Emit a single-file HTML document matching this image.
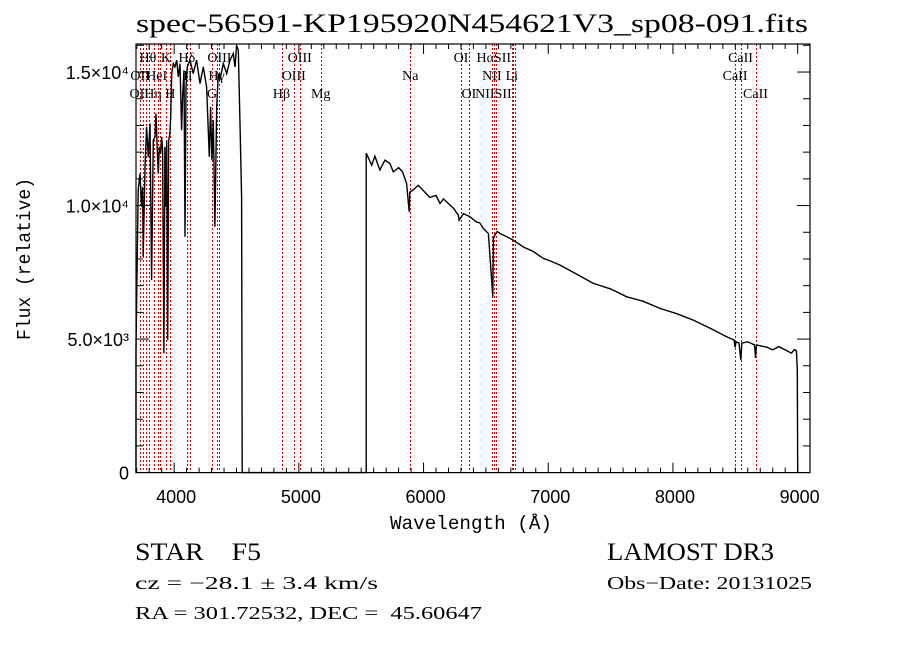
<!DOCTYPE html>
<html><head><meta charset="utf-8"><style>
html,body{margin:0;padding:0;background:#fff;}
svg{display:block;}
</style></head><body>
<svg id="chart" width="900" height="649" viewBox="0 0 900 649" xmlns="http://www.w3.org/2000/svg">
<rect width="900" height="649" fill="#fff"/>
<text x="472" y="32" text-anchor="middle" font-family="Liberation Serif, serif" font-size="26" textLength="672" lengthAdjust="spacingAndGlyphs">spec-56591-KP195920N454621V3_sp08-091.fits</text>
<g id="lines"></g>
<g id="labels"></g>
<g id="series"></g>
<g id="axes"></g>
<text transform="translate(30,259) rotate(-90)" text-anchor="middle" font-family="Liberation Mono, monospace" font-size="19" textLength="162" lengthAdjust="spacingAndGlyphs">Flux (relative)</text>
<text x="471" y="529" text-anchor="middle" font-family="Liberation Mono, monospace" font-size="19" textLength="162" lengthAdjust="spacingAndGlyphs">Wavelength (Å)</text>
<text x="135" y="560" font-family="Liberation Serif, serif" font-size="25" textLength="126" lengthAdjust="spacingAndGlyphs">STAR&#160;&#160;&#160;&#160;F5</text>
<text x="607" y="560" font-family="Liberation Serif, serif" font-size="25" textLength="167" lengthAdjust="spacingAndGlyphs">LAMOST DR3</text>
<text x="135" y="589" font-family="Liberation Serif, serif" font-size="18" textLength="243" lengthAdjust="spacingAndGlyphs">cz = −28.1 ± 3.4 km/s</text>
<text x="607" y="589" font-family="Liberation Serif, serif" font-size="18" textLength="205" lengthAdjust="spacingAndGlyphs">Obs−Date: 20131025</text>
<text x="135" y="619" font-family="Liberation Serif, serif" font-size="18" textLength="347" lengthAdjust="spacingAndGlyphs">RA = 301.72532, DEC =&#160;&#160;45.60647</text>
</svg>
<script>
const wave = [3694,3694,3704,3712,3726,3739,3747,3752,3766,3779,3793,3806,3819,3833,3846,3854,3865,3873,3881,3891,3900,3907,3918,3926,3934,3940,3948,3956,3966,3972,3980,3993,4006,4020,4033,4047,4060,4068,4079,4087,4095,4105,4127,4153,4180,4207,4234,4260,4282,4292,4303,4314,4327,4341,4354,4367,4394,4421,4447,4474,4488,4501,4514,4528,4541,4546,5540,5540,5584,5610,5650,5690,5730,5757,5800,5832,5864,5885,5890,5920,5958,6000,6050,6100,6132,6160,6198,6240,6279,6285,6320,6373,6420,6450,6480,6520,6555,6560,6590,6613,6660,6719,6800,6880,6960,7030,7094,7200,7361,7500,7629,7760,7896,8030,8163,8300,8431,8490,8498,8506,8530,8544,8552,8600,8655,8662,8670,8750,8800,8850,8950,8975,8990,8997,9000];
const flux = [0,4580,7956,10576,11200,9953,10700,8081,11450,12946,11824,13071,7208,12448,12572,13446,12073,11200,12198,11948,12572,12073,4464,12198,9953,12448,4962,12448,12697,13321,14943,15317,15192,15442,14818,15317,12822,14069,15067,8830,14444,15192,15442,14943,15442,14568,15192,14444,11824,13695,11699,13196,9204,13695,14943,14693,15317,14943,15442,15691,15192,16003,15816,13071,10327,0,0,11960,11510,11850,11330,11700,11575,11260,11420,11260,10825,9765,10500,10600,10760,10550,10300,10380,10080,10250,10080,9900,9640,9450,9700,9580,9400,9350,9140,8955,6585,8800,9030,8955,8850,8705,8450,8280,8020,7900,7770,7500,7085,6880,6585,6420,6150,5950,5710,5400,5085,4960,4690,4900,4850,4215,4850,4900,4780,4300,4780,4700,4600,4720,4475,4610,4560,3840,0];
const markerWaves = [3727,3750,3771,3798,3835,3869,3889,3934,3969,4102,4128,4304,4340,4363,4861,4959,5007,5175,5894,6300,6364,6548,6563,6583,6708,6716,6731,8498,8542,8662];
const labelText = ["Hθ","K","Hδ","OIII","OIII","OI","HαSII","CaII","OII","HeI","II","Hγ","OIII","Na","NII","Li","CaII","OII","Hη","H","G","Hβ","Mg","OI","NIISII","CaII"];
const labelWave = [3790,3934,4102,4363,5007,6300,6563,8542,3727,3860,4110,4340,4959,5894,6548,6708,8498,3720,3830,3969,4304,4861,5175,6364,6560,8662];
const labelRow = [0,0,0,0,0,0,0,0,1,1,1,1,1,1,1,1,1,2,2,2,2,2,2,2,2,2];
const xTicks = [4000,5000,6000,7000,8000,9000];
const yTicks = [0,5000,10000,15000];
const yTickLabels = ["0","5.0×10³","1.0×10⁴","1.5×10⁴"];

const L=136,R=810,T=44,B=472.6;
const xMin=3694,xMax=9099,yMin=0,yMax=16050;
const xs=v=>L+(v-xMin)/(xMax-xMin)*(R-L);
const ys=v=>B-(v-yMin)/(yMax-yMin)*(B-T);
const NS="http://www.w3.org/2000/svg";
function mk(tag,attrs,parent){const e=document.createElementNS(NS,tag);for(const k in attrs)e.setAttribute(k,attrs[k]);parent.appendChild(e);return e;}

const gLines=document.getElementById('lines');
markerWaves.forEach(w=>{
  const x=Math.round(xs(w))+0.5;
  const l=mk('line',{x1:x,x2:x,y1:T,y2:B,stroke:'#d00000','stroke-width':1,'stroke-dasharray':'2,2','shape-rendering':'crispEdges'},gLines);
  
  
});
const gLab=document.getElementById('labels');
labelText.forEach((t,i)=>{
  const e=mk('text',{x:xs(labelWave[i]),y:62+labelRow[i]*18,'text-anchor':'middle','font-family':'Liberation Serif, serif','font-size':14},gLab);
  e.textContent=t;
  
  
});
const gS=document.getElementById('series');
let d='';
wave.forEach((w,i)=>{const f=Math.min(flux[i],yMax);d+=(i?'L':'M')+xs(w).toFixed(1)+','+ys(f).toFixed(1);});
const p=mk('path',{d:d,fill:'none',stroke:'#000','stroke-width':1.4},gS);



const gA=document.getElementById('axes');
const fr=mk('rect',{x:L,y:T,width:R-L,height:B-T,fill:'none',stroke:'#000','stroke-width':1.2},gA);


for(let w=3700;w<=9099;w+=100){
  const major=w%1000===0, len=major?10:5, x=xs(w);
  mk('line',{x1:x,x2:x,y1:B,y2:B-len,stroke:'#000'},gA);
  mk('line',{x1:x,x2:x,y1:T,y2:T+len,stroke:'#000'},gA);
}
for(let v=1000;v<=16000;v+=1000){
  const major=v%5000===0,len=major?13:7,y=ys(v);
  mk('line',{x1:L,x2:L+len,y1:y,y2:y,stroke:'#000'},gA);
  mk('line',{x1:R,x2:R-len,y1:y,y2:y,stroke:'#000'},gA);
}
xTicks.forEach(v=>{
  const t=mk('text',{x:xs(v)+2,y:503,'text-anchor':'middle','font-family':'Liberation Sans, sans-serif','font-size':18},gA);
  t.textContent=v;
  
  
});
yTicks.forEach((v,i)=>{
  const t=mk('text',{x:129,y:ys(v)+7,'text-anchor':'end','font-family':'Liberation Sans, sans-serif','font-size':18},gA);
  t.textContent=yTickLabels[i];
  
  
});
</script>
</body></html>
